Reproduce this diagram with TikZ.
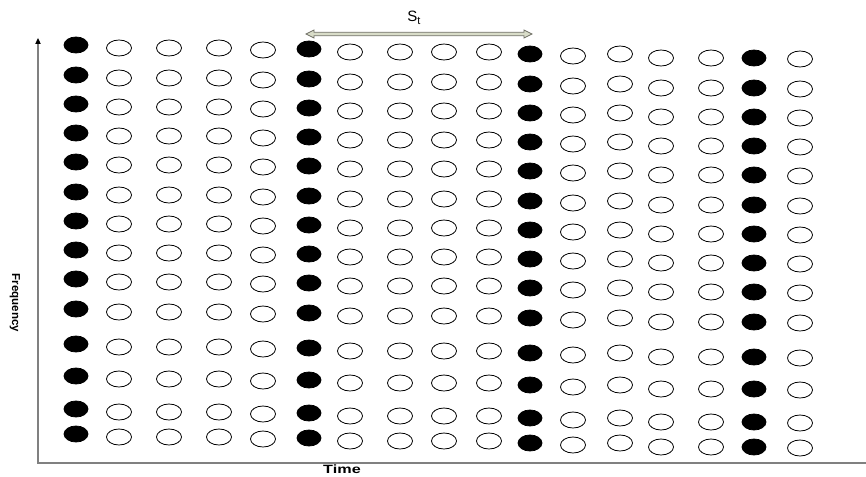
\documentclass[tikz,border=0pt]{standalone}
\usepackage{fontspec}
\setmainfont{Liberation Sans}
\usetikzlibrary{shapes.geometric,arrows.meta,calc}
\definecolor{axisgray}{RGB}{128,128,128}
\definecolor{arrfill}{RGB}{216,220,200}
\definecolor{arredge}{RGB}{110,110,100}
\begin{document}
\begin{tikzpicture}[x=1pt,y=-1pt,
  dotw/.style={ellipse,draw=black,line width=0.8pt,fill=white,minimum width=25pt,minimum height=16pt,inner sep=0pt},
  dotb/.style={ellipse,draw=black,line width=0.8pt,fill=black,minimum width=24pt,minimum height=16pt,inner sep=0pt},
  axis/.style={draw=axisgray,line width=1.4pt},
  lbl/.style={font=\bfseries\fontsize{12}{14}\selectfont,inner sep=0pt}]
\useasboundingbox (0,0) rectangle (866,476);
% axes
\coordinate (origin) at (38,463);
\coordinate (ytop) at (38,38);
\coordinate (xend) at (866,463);
\draw[axis] (origin) -- ($(ytop)+(0,4)$);
\draw[axis] ($(origin)+(-0.7,0)$) -- (xend);
\fill[black] (ytop) -- ++(-2.8,6) -- ++(5.6,0) -- cycle;
% grid of ellipses
\foreach \x/\o/\s [count=\c] in {76/0/dotb,119/3/dotw,169/3/dotw,219/3/dotw,263/5/dotw,
   309/4/dotb,350/7/dotw,400/7/dotw,444/7/dotw,489/7/dotw,
   530/9/dotb,573/11/dotw,620/9/dotw,661/13/dotw,711/13/dotw,754/13/dotb,800/14/dotw}{
  \foreach \y [count=\r] in {45,75,104,133,162,192,221,250,279,309,344,376,409,434}{
    \node[\s] (e-\c-\r) at (\x,\y+\o) {};
  }
}
% S_t arrow
\coordinate (sl) at (306,34);
\coordinate (sr) at (532,34);
\filldraw[fill=arrfill,draw=arredge,line width=0.7pt]
  (sl) -- ($(sl)+(8,-4)$) -- ($(sl)+(8,-1.7)$) -- ($(sr)+(-8,-1.7)$) -- ($(sr)+(-8,-4)$)
  -- (sr) -- ($(sr)+(-8,4)$) -- ($(sr)+(-8,1.7)$) -- ($(sl)+(8,1.7)$) -- ($(sl)+(8,4)$) -- cycle;
\node[font=\fontsize{15}{17}\selectfont,inner sep=0pt] (st) at (414,18) {S\raisebox{-0.35ex}{\fontsize{11}{13}\selectfont t}};
% labels
\node[lbl,xscale=1.35] (time) at (342,469.5) {Time};
\node[font=\bfseries\fontsize{11.5}{14}\selectfont,inner sep=0pt,rotate=-90] (freq) at (15,303) {Frequency};
\end{tikzpicture}
\end{document}
